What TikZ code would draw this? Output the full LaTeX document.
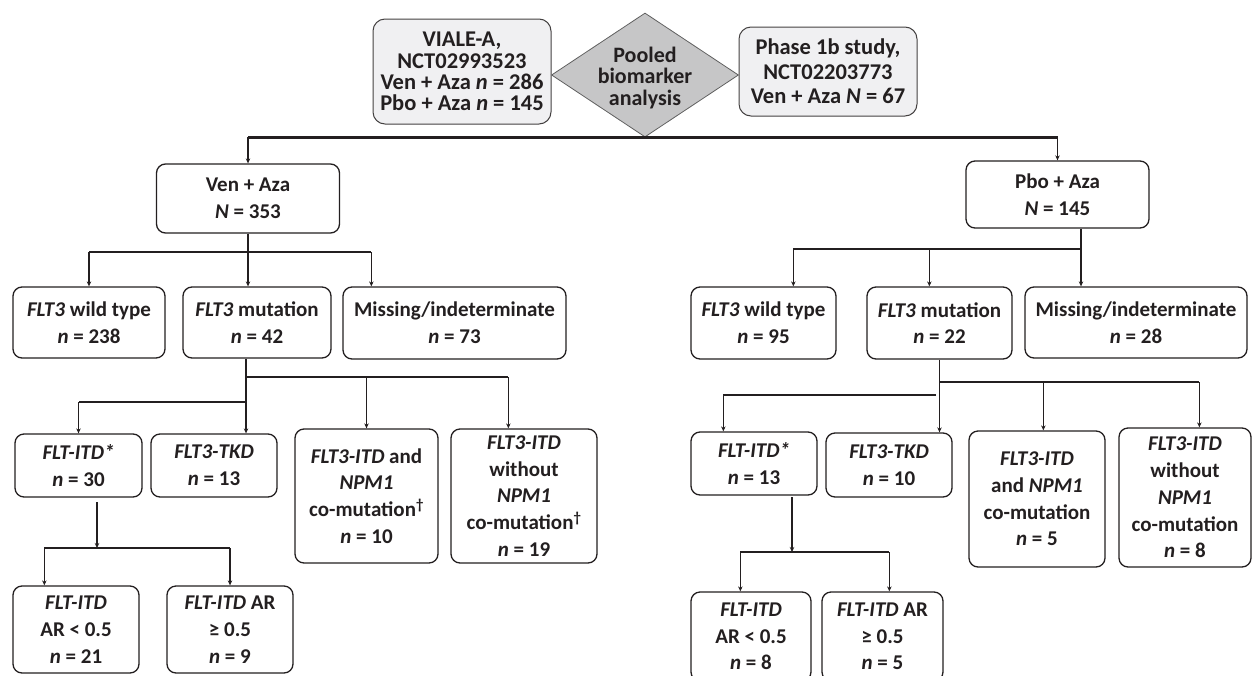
\documentclass[tikz,border=0pt]{standalone}
\usepackage{fontspec}
\setmainfont{Carlito}
\usetikzlibrary{shapes.geometric,arrows.meta}
\newcommand\gi[1]{\textit{#1}}
\definecolor{topfill}{HTML}{F0F0F2}
\definecolor{diafill}{HTML}{C6C6C7}
\definecolor{ink}{HTML}{231F20}
\tikzset{
  box/.style={draw=ink, line width=1.3pt, rounded corners=9pt, fill=white, align=center, inner sep=0pt,
    font=\bfseries\fontsize{21}{26.7}\selectfont, text=ink},
  topbox/.style={draw=ink!85, line width=1pt, rounded corners=12pt, fill=topfill, align=center, inner sep=0pt, text=ink},
  ln/.style={draw=ink, line width=1.3pt},
  arr/.style={ln, -{Stealth[length=5pt,width=4.5pt]}},
  mainln/.style={draw=ink, line width=2.4pt},
}
\begin{document}
\begin{tikzpicture}[x=1pt,y=-1pt]
\useasboundingbox (0,0) rectangle (1253,675);
\clip (0,0) rectangle (1253,675);
% top
\node[topbox, minimum width=178pt, minimum height=105pt, font=\bfseries\fontsize{22.5}{21.3}\selectfont] (viale) at (462,71.5)
  {VIALE-A,\\NCT02993523\\Ven + Aza \gi{n} = 286\\Pbo + Aza \gi{n} = 145};
\node[diamond, draw=gray!75!black, line width=0.8pt, fill=diafill, minimum width=187pt, minimum height=124pt, inner sep=0pt] (pool) at (645,75) {};
\node[align=center, font=\bfseries\fontsize{22}{21.5}\selectfont, text=ink] (pooltxt) at (645,78) {Pooled\\biomarker\\analysis};
\node[topbox, minimum width=178pt, minimum height=89pt, font=\bfseries\fontsize{22.5}{24.5}\selectfont] (phase) at (828,71.5)
  {Phase 1b study,\\NCT02203773\\Ven + Aza \gi{N} = 67};
% level 1
\node[box, minimum width=183pt, minimum height=69pt] (ven) at (248,198.5) {Ven + Aza\\\gi{N} = 353};
\node[box, minimum width=183pt, minimum height=67pt] (pbo) at (1057.5,194.5) {Pbo + Aza\\\gi{N} = 145};
\draw[mainln] (ven.north |- pool.south) -- (pbo.north |- pool.south);
\draw[arr] (ven.north |- pool.south) -- (ven.north);
\draw[arr] (pbo.north |- pool.south) -- (pbo.north);
% left level 2
\node[box, minimum width=152pt, minimum height=71pt] (lwt) at (89,322.5) {\gi{FLT3} wild type\\\gi{n} = 238};
\node[box, minimum width=148pt, minimum height=71pt] (lmut) at (257,322.5) {\gi{FLT3} mutation\\\gi{n} = 42};
\node[box, minimum width=223pt, minimum height=72pt] (lmis) at (454.5,323) {Missing/indeterminate\\\gi{n} = 73};
\coordinate (j1) at (248,252);
\coordinate (lmisT) at ([xshift=29pt]lmis.north west);
\draw[ln] (ven.south) -- (j1);
\draw[ln] (lwt.north |- j1) -- (lmisT |- j1);
\draw[arr] (lwt.north |- j1) -- (lwt.north);
\draw[arr] (j1) -- (j1 |- lmut.north);
\draw[arr] (lmisT |- j1) -- (lmisT);
% left level 3
\node[box, minimum width=127pt, minimum height=63pt] (litd) at (78.5,465.5) {\gi{FLT-ITD*}\\\gi{n} = 30};
\node[box, minimum width=126pt, minimum height=63pt] (ltkd) at (214,465.5) {\gi{FLT3-TKD}\\\gi{n} = 13};
\node[box, minimum width=143pt, minimum height=134pt] (lnpm) at (366.5,496) {\gi{FLT3-ITD} and\\\gi{NPM1}\\co-mutation\textsuperscript{†}\\\gi{n} = 10};
\node[box, minimum width=146pt, minimum height=134pt] (lwo) at (524,496) {\gi{FLT3-ITD}\\without\\\gi{NPM1}\\co-mutation\textsuperscript{†}\\\gi{n} = 19};
\coordinate (j2) at (246,377);
\coordinate (j3) at (246,402);
\coordinate (lwoT) at ([xshift=58pt]lwo.north west);
\draw[ln] (j2 |- lmut.south) -- (j2);
\draw[arr] (j2) -- (j2 |- ltkd.north);
\draw[ln] (j2) -- (lwoT |- j2);
\draw[arr] (lnpm.north |- j2) -- (lnpm.north);
\draw[arr] (lwoT |- j2) -- (lwoT);
\draw[ln] (j3) -- (litd.north |- j3);
\draw[arr] (litd.north |- j3) -- (litd.north);
% left level 4
\node[box, minimum width=126pt, minimum height=87pt] (lar1) at (76,629.5) {\gi{FLT-ITD}\\AR < 0.5\\\gi{n} = 21};
\node[box, minimum width=126pt, minimum height=87pt] (lar2) at (230,629.5) {\gi{FLT-ITD} AR\\≥ 0.5\\\gi{n} = 9};
\coordinate (j4s) at (97,502);
\coordinate (j4) at (97,548);
\coordinate (lar1T) at ([xshift=32pt]lar1.north west);
\draw[arr] (j4s) -- (j4);
\draw[ln] (lar1T |- j4) -- (lar2.north |- j4);
\draw[arr] (lar1T |- j4) -- (lar1T);
\draw[arr] (lar2.north |- j4) -- (lar2.north);
% right level 2
\node[box, minimum width=145pt, minimum height=72pt] (rwt) at (763.5,323) {\gi{FLT3} wild type\\\gi{n} = 95};
\node[box, minimum width=145pt, minimum height=72pt] (rmut) at (939.5,323) {\gi{FLT3} mutation\\\gi{n} = 22};
\node[box, minimum width=222pt, minimum height=71pt] (rmis) at (1136,322.5) {Missing/indeterminate\\\gi{n} = 28};
\coordinate (k1) at (1081,249);
\coordinate (rwtT) at ([xshift=103pt]rwt.north west);
\coordinate (rmutT) at ([xshift=63pt]rmut.north west);
\draw[ln] (k1 |- pbo.south) -- (k1);
\draw[ln] (rwtT |- k1) -- (k1);
\draw[arr] (rwtT |- k1) -- (rwtT);
\draw[arr] (rmutT |- k1) -- (rmutT);
\draw[arr] (k1) -- (k1 |- rmis.north);
% right level 3
\node[box, minimum width=126pt, minimum height=63pt] (ritd) at (754,463.5) {\gi{FLT-ITD*}\\\gi{n} = 13};
\node[box, minimum width=126pt, minimum height=64pt] (rtkd) at (889,465) {\gi{FLT3-TKD}\\\gi{n} = 10};
\node[box, minimum width=136pt, minimum height=136pt] (rnpm) at (1037,499) {\gi{FLT3-ITD}\\and \gi{NPM1}\\co-mutation\\\gi{n} = 5};
\node[box, minimum width=132pt, minimum height=139pt] (rwo) at (1185,497.5) {\gi{FLT3-ITD}\\without\\\gi{NPM1}\\co-mutation\\\gi{n} = 8};
\coordinate (k2) at (939.5,382);
\coordinate (k3) at (936,395);
\coordinate (rnpmT) at ([xshift=75pt]rnpm.north west);
\coordinate (rwoT) at ([xshift=81pt]rwo.north west);
\coordinate (ritdT) at ([xshift=33pt]ritd.north west);
\draw[arr] (rmut.south) -- (rmut.south |- rtkd.north);
\draw[ln] (k2) -- (rwoT |- k2);
\draw[arr] (rnpmT |- k2) -- (rnpmT);
\draw[arr] (rwoT |- k2) -- (rwoT);
\draw[ln] (k3) -- (ritdT |- k3);
\draw[arr] (ritdT |- k3) -- (ritdT);
% right level 4
\node[box, minimum width=120pt, minimum height=89pt] (rar1) at (751,636.5) {\gi{FLT-ITD}\\AR < 0.5\\\gi{n} = 8};
\node[box, minimum width=121pt, minimum height=89pt] (rar2) at (882.5,636.5) {\gi{FLT-ITD} AR\\≥ 0.5\\\gi{n} = 5};
\coordinate (k4s) at (792,497);
\coordinate (k4) at (792,552);
\coordinate (rar1T) at ([xshift=50pt]rar1.north west);
\coordinate (rar2T) at ([xshift=68pt]rar2.north west);
\draw[arr] (k4s) -- (k4);
\draw[ln] (rar1T |- k4) -- (rar2T |- k4);
\draw[arr] (rar1T |- k4) -- (rar1T);
\draw[arr] (rar2T |- k4) -- (rar2T);
\end{tikzpicture}
\end{document}
